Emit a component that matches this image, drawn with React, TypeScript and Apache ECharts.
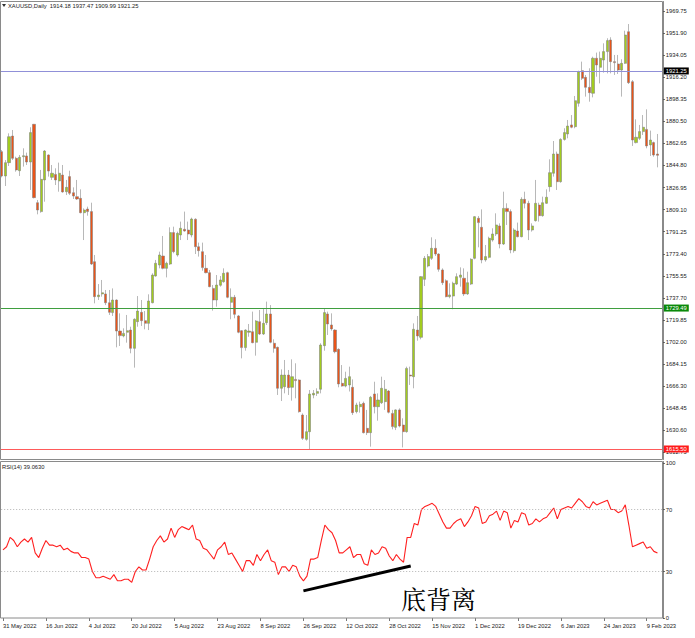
import React, { useEffect, useRef } from "react";
import * as echarts from "echarts";

// ---- data ----
const opens = [
  1856.0, 1836.3, 1847.1, 1868.6, 1850.6, 1840.6, 1851.9, 1852.5, 1847.6, 1878.1,
  1814.7, 1807.5, 1833.1, 1853.3, 1835.2, 1837.6, 1832.3, 1837.1, 1823.6, 1835.8,
  1822.8, 1819.6, 1818.2, 1806.6, 1809.6, 1807.5, 1767.0, 1738.7, 1740.9, 1740.9,
  1733.8, 1725.8, 1736.0, 1710.9, 1706.9, 1709.9, 1711.7, 1696.9, 1718.5, 1726.0,
  1719.3, 1717.1, 1733.8, 1755.4, 1764.3, 1771.6, 1761.6, 1765.1, 1790.5, 1772.4,
  1788.6, 1793.2, 1792.6, 1788.6, 1801.3, 1779.1, 1775.1, 1761.6, 1758.1, 1745.4,
  1736.0, 1747.9, 1750.8, 1758.1, 1734.1, 1738.2, 1723.1, 1711.2, 1697.5, 1709.9,
  1710.4, 1701.8, 1718.5, 1708.5, 1717.7, 1724.7, 1701.0, 1697.7, 1664.6, 1665.9,
  1675.3, 1665.4, 1671.8, 1671.3, 1643.0, 1623.3, 1629.5, 1659.2, 1660.5, 1663.8,
  1699.1, 1724.7, 1715.8, 1711.7, 1696.1, 1668.6, 1666.4, 1667.3, 1665.4, 1645.7,
  1649.7, 1652.4, 1632.2, 1628.7, 1660.0, 1649.7, 1652.9, 1653.8, 1662.4, 1644.3,
  1633.0, 1647.1, 1634.9, 1629.5, 1675.3, 1674.0, 1711.7, 1705.8, 1752.7, 1763.5,
  1769.7, 1777.8, 1773.2, 1760.3, 1751.6, 1738.7, 1739.2, 1748.9, 1754.4, 1753.6,
  1740.9, 1748.9, 1769.7, 1802.1, 1794.8, 1768.4, 1770.5, 1784.5, 1789.4, 1795.9,
  1781.3, 1810.1, 1807.5, 1775.9, 1791.8, 1787.2, 1817.4, 1814.2, 1792.6, 1800.2,
  1812.8, 1804.2, 1814.2, 1827.7, 1838.5, 1854.1, 1831.7, 1865.9, 1870.3, 1877.6,
  1876.2, 1895.1, 1921.5, 1916.1, 1908.0, 1903.2, 1931.5, 1924.2, 1930.1, 1936.9,
  1946.3, 1928.8, 1926.9, 1922.0, 1927.4, 1953.0, 1912.6, 1863.3, 1866.8, 1872.2,
  1874.0, 1861.4, 1863.3, 1854.1,
];
const closes = [
  1836.3, 1847.1, 1868.1, 1850.6, 1841.2, 1851.4, 1852.7, 1847.6, 1871.4, 1818.8,
  1808.8, 1833.6, 1856.5, 1840.3, 1838.5, 1833.1, 1838.5, 1823.4, 1827.1, 1822.3,
  1820.1, 1817.7, 1806.6, 1808.8, 1807.5, 1765.1, 1738.7, 1740.0, 1741.9, 1733.8,
  1726.0, 1736.0, 1710.9, 1707.2, 1709.0, 1711.2, 1696.9, 1720.4, 1727.1, 1719.3,
  1717.1, 1735.2, 1756.2, 1765.7, 1772.4, 1761.6, 1765.7, 1790.5, 1775.1, 1789.9,
  1794.0, 1791.8, 1789.4, 1801.5, 1779.1, 1775.9, 1762.2, 1758.1, 1746.8, 1736.0,
  1748.1, 1752.2, 1757.6, 1738.2, 1738.2, 1724.4, 1709.9, 1697.5, 1711.7, 1710.9,
  1701.5, 1719.0, 1708.5, 1717.1, 1724.7, 1701.8, 1696.9, 1664.6, 1675.3, 1675.3,
  1665.1, 1674.0, 1670.8, 1645.7, 1624.1, 1629.5, 1660.0, 1660.5, 1661.9, 1699.6,
  1725.8, 1716.6, 1712.6, 1694.2, 1668.1, 1666.4, 1672.6, 1674.0, 1644.9, 1651.1,
  1651.6, 1628.7, 1628.7, 1657.3, 1649.7, 1655.1, 1664.6, 1663.8, 1645.2, 1633.6,
  1647.1, 1634.1, 1629.5, 1680.7, 1674.5, 1712.3, 1706.9, 1754.9, 1769.7, 1771.1,
  1777.8, 1773.2, 1760.8, 1750.0, 1738.7, 1740.1, 1749.5, 1754.9, 1756.2, 1740.9,
  1750.0, 1768.9, 1803.4, 1798.6, 1768.4, 1771.1, 1785.9, 1789.4, 1796.7, 1781.3,
  1810.1, 1807.5, 1776.5, 1792.6, 1787.2, 1817.4, 1814.2, 1792.6, 1795.9, 1814.2,
  1804.2, 1814.7, 1819.1, 1839.0, 1854.1, 1831.7, 1865.9, 1871.4, 1876.7, 1875.7,
  1897.2, 1920.7, 1915.3, 1908.0, 1903.7, 1931.5, 1926.1, 1931.5, 1936.9, 1945.8,
  1928.8, 1928.0, 1922.0, 1927.4, 1950.3, 1911.8, 1865.4, 1867.6, 1872.2, 1875.7,
  1860.6, 1865.4, 1853.3, 1853.0,
];
const lows = [
  1835.2, 1828.2, 1844.4, 1849.2, 1839.8, 1836.3, 1843.9, 1845.2, 1825.0, 1818.2,
  1805.3, 1806.6, 1815.5, 1835.8, 1833.1, 1829.0, 1823.6, 1822.8, 1820.9, 1820.9,
  1817.7, 1816.9, 1806.1, 1784.5, 1804.2, 1764.3, 1733.3, 1736.0, 1738.7, 1731.9,
  1723.9, 1723.1, 1697.7, 1698.8, 1705.8, 1701.5, 1692.9, 1681.3, 1714.4, 1715.0,
  1712.3, 1711.7, 1733.3, 1754.9, 1761.6, 1760.8, 1754.3, 1764.3, 1773.8, 1771.1,
  1784.5, 1791.3, 1784.5, 1786.7, 1773.2, 1771.1, 1759.7, 1757.6, 1746.3, 1727.4,
  1730.6, 1746.8, 1750.0, 1737.4, 1720.4, 1721.2, 1709.1, 1688.8, 1695.0, 1706.3,
  1701.0, 1691.0, 1707.7, 1707.7, 1715.8, 1701.0, 1693.4, 1659.2, 1654.3, 1660.5,
  1659.2, 1654.6, 1656.5, 1644.9, 1622.8, 1622.2, 1615.0, 1656.5, 1658.4, 1660.5,
  1695.0, 1707.7, 1711.2, 1692.9, 1665.4, 1665.9, 1665.4, 1662.0, 1643.0, 1644.3,
  1644.9, 1628.1, 1626.8, 1617.4, 1644.3, 1638.4, 1651.9, 1647.1, 1644.3, 1631.4,
  1630.8, 1633.0, 1616.8, 1628.7, 1667.3, 1664.6, 1703.1, 1704.2, 1747.3, 1762.4,
  1768.4, 1771.6, 1758.9, 1748.1, 1738.2, 1737.4, 1728.5, 1748.1, 1746.8, 1739.2,
  1740.1, 1748.1, 1768.9, 1778.6, 1765.7, 1767.0, 1769.7, 1783.2, 1787.8, 1777.8,
  1780.5, 1796.7, 1773.8, 1774.3, 1786.7, 1786.7, 1810.1, 1784.5, 1791.3, 1799.4,
  1799.4, 1803.4, 1813.7, 1823.6, 1835.8, 1825.0, 1830.9, 1864.9, 1866.8, 1874.9,
  1874.9, 1892.4, 1913.9, 1900.5, 1896.4, 1899.9, 1916.6, 1911.2, 1919.9, 1919.3,
  1919.3, 1918.0, 1918.8, 1900.5, 1926.9, 1910.7, 1860.6, 1862.7, 1865.4, 1869.5,
  1858.7, 1852.5, 1851.9, 1843.3,
];
const highs = [
  1857.3, 1849.2, 1870.8, 1873.5, 1851.9, 1853.3, 1858.7, 1855.2, 1875.7, 1878.4,
  1816.9, 1841.2, 1857.3, 1853.8, 1845.2, 1842.5, 1847.1, 1845.2, 1833.1, 1840.6,
  1827.1, 1833.1, 1825.5, 1810.1, 1811.5, 1814.7, 1772.4, 1748.9, 1752.2, 1744.1,
  1744.1, 1745.4, 1736.5, 1725.2, 1713.1, 1723.9, 1714.4, 1721.2, 1739.2, 1736.0,
  1727.1, 1740.6, 1757.6, 1768.4, 1775.1, 1787.8, 1767.0, 1794.8, 1795.3, 1791.3,
  1799.4, 1807.5, 1799.4, 1802.6, 1802.1, 1782.4, 1782.4, 1772.4, 1760.3, 1748.1,
  1756.2, 1755.4, 1761.6, 1758.9, 1745.4, 1740.1, 1723.9, 1711.7, 1712.3, 1716.6,
  1726.6, 1719.8, 1727.9, 1729.3, 1734.7, 1731.9, 1704.2, 1698.3, 1679.9, 1687.5,
  1679.4, 1688.0, 1684.8, 1671.8, 1644.3, 1643.0, 1663.2, 1663.2, 1664.6, 1701.0,
  1729.3, 1726.6, 1725.2, 1712.3, 1696.9, 1683.4, 1678.0, 1682.1, 1671.8, 1652.9,
  1653.8, 1653.8, 1647.1, 1658.4, 1669.9, 1660.5, 1674.0, 1671.3, 1663.2, 1647.1,
  1647.6, 1648.4, 1640.3, 1682.1, 1682.1, 1717.1, 1723.1, 1755.4, 1771.6, 1773.2,
  1786.7, 1785.1, 1773.8, 1761.6, 1752.7, 1749.5, 1750.8, 1757.6, 1762.4, 1761.6,
  1758.9, 1769.7, 1803.9, 1803.9, 1809.3, 1780.5, 1787.2, 1794.0, 1806.1, 1798.0,
  1823.6, 1814.2, 1809.3, 1794.0, 1798.6, 1819.1, 1823.6, 1816.3, 1798.0, 1833.1,
  1814.7, 1819.6, 1825.5, 1849.8, 1864.6, 1856.0, 1866.8, 1874.9, 1881.6, 1885.6,
  1901.0, 1921.5, 1928.8, 1918.0, 1923.4, 1932.8, 1936.1, 1936.9, 1943.6, 1947.7,
  1948.5, 1934.2, 1934.2, 1930.7, 1953.8, 1959.2, 1913.9, 1882.1, 1877.6, 1885.6,
  1890.2, 1873.0, 1864.1, 1870.3,
];
const rsiValues = [
  44, 46, 52, 50, 46, 49, 51, 49, 52, 42,
  39, 45, 50, 47, 47, 46, 47, 44, 45, 43,
  42, 42, 39, 39, 38, 30, 26, 26, 27, 26,
  25, 28, 24, 24, 25, 25, 23, 30, 33, 31,
  31, 38, 46, 50, 53, 49, 51, 58, 52, 57,
  59, 58, 57, 60, 51, 50, 45, 44, 41, 38,
  44, 46, 49, 41, 42, 38, 34, 30, 37, 37,
  34, 41, 37, 41, 44, 37, 36, 28, 33, 33,
  30, 34, 33, 27, 24, 27, 38, 38, 39, 50,
  60, 57, 55, 50, 42, 42, 44, 46, 39, 41,
  41, 35, 34, 44, 41, 42, 46, 45, 40, 37,
  41, 38, 36, 52, 52, 61, 60, 70, 72, 73,
  74, 72, 67, 62, 58, 58, 61, 63, 64, 59,
  62, 66, 72, 71, 61, 62, 66, 67, 69, 63,
  69, 68, 58, 63, 62, 68, 67, 60, 61, 64,
  62, 64, 65, 68, 71, 64, 70, 71, 72, 71,
  74, 77, 75, 72, 71, 75, 73, 74, 75, 76,
  70, 70, 68, 69, 73, 60, 46, 47, 48, 49,
  45, 46, 43, 42,
];
const priceTicks = [
  1969.75, 1951.9, 1934.05, 1916.2, 1898.35, 1880.5, 1862.65, 1844.8, 1826.95,
  1809.1, 1791.25, 1773.4, 1755.55, 1737.7, 1719.85, 1702.0, 1684.15, 1666.3,
  1648.45, 1630.6, 1612.75,
];
const rsiTicks = [0, 30, 70, 100];
const rsiLevels = [70, 30];
const lineBlue = 1921.25;
const lineGreen = 1729.49;
const lineRed = 1615.5;
const headerText = "XAUUSD,Daily  1914.18 1937.47 1909.99 1921.25";
const rsiTitle = "RSI(14) 39.0630";
const noteText = "底背离";
const divergenceFrom = [84, 17.5];
const divergenceTo = [114, 33.6];

const MONTHS = ["Jan", "Feb", "Mar", "Apr", "May", "Jun", "Jul", "Aug", "Sep", "Oct", "Nov", "Dec"];
const HOLIDAYS = new Set(["2022-12-26", "2023-01-02"]);

function buildDates(count: number): string[] {
  const out: string[] = [];
  const d = new Date(Date.UTC(2022, 4, 31));
  while (out.length < count) {
    const wd = d.getUTCDay();
    const key = d.toISOString().slice(0, 10);
    if (wd !== 0 && wd !== 6 && !HOLIDAYS.has(key)) {
      out.push(`${d.getUTCDate()} ${MONTHS[d.getUTCMonth()]} ${d.getUTCFullYear()}`);
    }
    d.setUTCDate(d.getUTCDate() + 1);
  }
  return out;
}

const SMALL_FONT = "Liberation Sans";
const FS = 5.8;

export default function App() {
  const ref = useRef<HTMLDivElement>(null);

  useEffect(() => {
    document.body.style.margin = "0";
    if (!ref.current) return;
    const chart = echarts.init(ref.current, undefined, { renderer: "svg" });

    const nBars = opens.length;
    const dates = buildDates(nBars);
    const categories = [...dates, " "];
    const N = categories.length;
    const bw = 3.595;
    const gridLeft = -0.44 - bw / 2;
    const gridWidth = bw * N;

    const candleData = opens.map((o, i) => [o, closes[i], lows[i], highs[i]]);
    const labelEvery = (idx: number) => idx % 12 === 0 && idx < nBars;

    const hLine = (v: number, lineColor: string, boxColor: string) => ({
      yAxis: v,
      lineStyle: { color: lineColor, width: 1, type: "solid", opacity: 1 },
      emphasis: { disabled: true },
      label: {
        show: true,
        position: "end",
        formatter: () => v.toFixed(2),
        color: "#fff",
        backgroundColor: boxColor,
        fontFamily: SMALL_FONT,
        fontSize: FS,
        padding: [1, 2, 0, 2],
        distance: 1,
      },
    });

    const option: any = {
      animation: false,
      backgroundColor: "#ffffff",
      grid: [
        { left: gridLeft, top: 1.5, width: gridWidth, height: 458 },
        { left: gridLeft, top: 461.5, width: gridWidth, height: 156.5 },
      ],
      xAxis: [
        {
          type: "category",
          gridIndex: 0,
          data: categories,
          boundaryGap: true,
          axisLine: { show: false },
          axisTick: { show: false },
          axisLabel: { show: false },
          splitLine: { show: false },
        },
        {
          type: "category",
          gridIndex: 1,
          data: categories,
          boundaryGap: true,
          axisLine: { show: false },
          axisTick: {
            show: true,
            alignWithLabel: true,
            interval: labelEvery,
            length: 3,
            lineStyle: { color: "#777", width: 1 },
          },
          axisLabel: {
            show: true,
            interval: labelEvery,
            align: "left",
            margin: 5,
            color: "#222",
            fontFamily: SMALL_FONT,
            fontSize: FS,
          },
          splitLine: { show: false },
        },
      ],
      yAxis: [
        {
          type: "value",
          gridIndex: 0,
          position: "right",
          min: 1607.0,
          max: 1977.43,
          axisLine: { show: true, lineStyle: { color: "#8a8a8a", width: 1 } },
          axisTick: {
            show: true,
            customValues: priceTicks,
            length: 2,
            lineStyle: { color: "#555" },
          },
          axisLabel: {
            show: true,
            customValues: priceTicks,
            formatter: (v: number) => v.toFixed(2),
            margin: 3,
            color: "#222",
            fontFamily: SMALL_FONT,
            fontSize: FS,
          },
          splitLine: { show: false },
        },
        {
          type: "value",
          gridIndex: 1,
          position: "right",
          min: 0,
          max: 101,
          axisLine: { show: true, lineStyle: { color: "#8a8a8a", width: 1 } },
          axisTick: {
            show: true,
            customValues: rsiTicks,
            length: 2,
            lineStyle: { color: "#555" },
          },
          axisLabel: {
            show: true,
            customValues: rsiTicks,
            formatter: (v: number) => String(v),
            margin: 3,
            color: "#222",
            fontFamily: SMALL_FONT,
            fontSize: FS,
          },
          splitLine: { show: false },
        },
      ],
      series: [
        {
          type: "candlestick",
          xAxisIndex: 0,
          yAxisIndex: 0,
          data: candleData,
          barWidth: 2.6,
          itemStyle: {
            color: "#a2cc1e",
            color0: "#ea5418",
            borderColor: "#7c7c7c",
            borderColor0: "#7c7c7c",
            borderWidth: 0.55,
          },
          markLine: {
            silent: true,
            symbol: "none",
            lineStyle: { color: "#9696dc" },
            data: [
              hLine(lineRed, "#ff5a5a", "#ff1a1a"),
              hLine(lineGreen, "#3f9f3f", "#0a8a0a"),
              hLine(lineBlue, "#9090d8", "#000000"),
            ],
          },
        },
        {
          type: "line",
          xAxisIndex: 1,
          yAxisIndex: 1,
          data: rsiValues,
          showSymbol: false,
          symbol: "none",
          lineStyle: { color: "#ff2020", width: 1.1 },
          markLine: {
            silent: true,
            symbol: "none",
            label: { show: false },
            data: [
              ...rsiLevels.map((v) => ({
                yAxis: v,
                lineStyle: { color: "#b4b4b4", width: 1, type: [1, 2] },
              })),
              [
                {
                  coord: divergenceFrom,
                  lineStyle: { color: "#000", width: 3, type: "solid" },
                },
                { coord: divergenceTo },
              ],
            ],
          },
        },
      ],
      graphic: [
        {
          type: "rect",
          silent: true,
          shape: { x: 0.5, y: 1.5, width: 662, height: 458 },
          style: { fill: "none", stroke: "#8a8a8a", lineWidth: 1 },
          z: 100,
        },
        {
          type: "rect",
          silent: true,
          shape: { x: 0.5, y: 461.5, width: 662, height: 156.5 },
          style: { fill: "none", stroke: "#8a8a8a", lineWidth: 1 },
          z: 100,
        },
        {
          type: "polygon",
          silent: true,
          shape: { points: [[2, 4], [6, 4], [4, 7]] },
          style: { fill: "#333" },
          z: 100,
        },
        {
          type: "text",
          silent: true,
          x: 8,
          y: 5.5,
          style: {
            text: headerText,
            fill: "#222",
            font: `${FS}px "${SMALL_FONT}"`,
            textVerticalAlign: "middle",
          },
          z: 100,
        },
        {
          type: "text",
          silent: true,
          x: 2,
          y: 467,
          style: {
            text: rsiTitle,
            fill: "#222",
            font: `${FS}px "${SMALL_FONT}"`,
            textVerticalAlign: "middle",
          },
          z: 100,
        },
        {
          type: "text",
          silent: true,
          x: 401,
          y: 598,
          style: {
            text: noteText,
            fill: "#000",
            font: `25px "Noto Serif CJK SC", "Noto Sans CJK SC"`,
            textVerticalAlign: "middle",
          },
          z: 100,
        },
      ],
    };

    chart.setOption(option);
    return () => chart.dispose();
  }, []);

  return (
    <div
      ref={ref}
      style={{ position: "absolute", left: 0, top: 0, width: 695, height: 638, background: "#fff" }}
    />
  );
}
